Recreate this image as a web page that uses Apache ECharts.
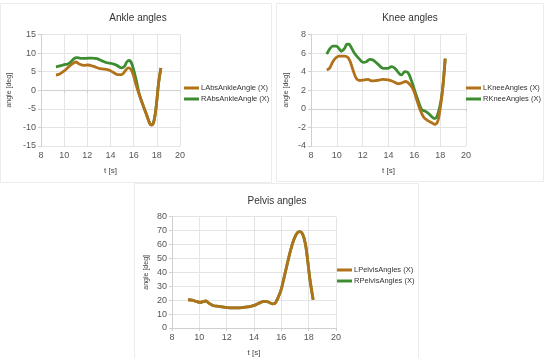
<!DOCTYPE html>
<html>
<head>
<meta charset="utf-8">
<script src="https://cdn.jsdelivr.net/npm/echarts@6/dist/echarts.min.js"></script>
<style>html,body{margin:0;padding:0;background:#fff}#c{width:550px;height:358px}</style>
</head>
<body>
<div id="c"></div>
<script>
// ---- data: [t (s), angle (deg)] ----
var ankleLeft = [[9.29,4.1],[9.57,4.3],[10.0,5.2],[10.43,6.4],[10.8,7.3],[11.0,7.6],[11.28,7.1],[11.7,6.7],[12.05,6.8],[12.56,6.4],[13.1,5.8],[13.8,5.5],[14.2,4.9],[14.6,4.2],[14.97,4.2],[15.26,5.2],[15.54,6.0],[15.74,5.7],[15.97,4.1],[16.25,1.0],[16.68,-3.0],[17.1,-6.5],[17.39,-9.0],[17.53,-9.4],[17.73,-8.6],[17.95,-4.3],[18.15,1.85],[18.35,6.0]];
var ankleRight = [[9.29,6.3],[9.72,6.6],[10.0,6.9],[10.28,7.0],[10.57,7.6],[10.85,8.5],[11.08,8.8],[11.42,8.6],[11.85,8.6],[12.4,8.65],[12.84,8.5],[13.27,7.9],[13.7,7.4],[14.1,7.2],[14.55,6.7],[14.97,6.0],[15.2,6.4],[15.4,7.6],[15.6,8.0],[15.77,7.6],[15.97,5.8],[16.2,3.0],[16.45,-0.6],[16.68,-2.9],[17.1,-6.4],[17.39,-8.9],[17.53,-9.3],[17.73,-8.5],[17.95,-4.2],[18.15,1.9],[18.35,6.0]];
var kneeLeft = [[9.22,4.2],[9.43,4.36],[9.69,5.07],[9.95,5.53],[10.2,5.67],[10.6,5.67],[10.86,5.53],[11.04,5.07],[11.25,4.18],[11.5,3.3],[11.77,3.05],[12.16,3.12],[12.42,3.16],[12.68,3.0],[13.06,3.05],[13.58,3.16],[13.97,3.12],[14.36,2.94],[14.75,2.7],[15.0,2.77],[15.35,2.94],[15.66,2.6],[15.92,2.06],[16.18,1.0],[16.44,-0.07],[16.7,-0.85],[16.96,-1.2],[17.35,-1.5],[17.6,-1.67],[17.8,-1.4],[17.95,-0.43],[18.13,1.35],[18.26,3.1],[18.39,5.4]];
var kneeRight = [[9.22,5.89],[9.48,6.5],[9.69,6.74],[9.95,6.74],[10.16,6.5],[10.34,6.2],[10.6,6.5],[10.78,6.95],[10.94,6.95],[11.12,6.6],[11.38,5.96],[11.77,5.32],[12.03,5.0],[12.29,5.07],[12.55,5.32],[12.8,5.25],[13.2,4.79],[13.58,4.36],[13.97,4.36],[14.23,4.54],[14.49,4.36],[14.88,3.72],[15.0,3.65],[15.27,4.0],[15.45,3.97],[15.71,3.3],[16.05,1.88],[16.31,0.82],[16.57,-0.07],[16.83,-0.25],[17.1,-0.5],[17.35,-0.85],[17.56,-1.06],[17.74,-0.85],[17.95,0.1],[18.13,1.5],[18.26,3.2],[18.39,5.4]];
var pelvisLeft = [[9.17,20.3],[9.46,20.1],[9.83,18.9],[10.07,18.4],[10.32,19.1],[10.49,19.4],[10.69,17.9],[11.05,16.0],[11.42,15.6],[11.91,14.9],[12.4,14.4],[12.77,14.4],[13.26,14.9],[13.75,15.6],[14.12,16.6],[14.49,18.4],[14.73,19.1],[15.05,18.7],[15.34,17.4],[15.54,17.7],[15.71,20.8],[15.96,26.7],[16.2,36.2],[16.45,46.8],[16.69,56.3],[16.94,64.1],[17.18,68.6],[17.35,69.3],[17.55,67.7],[17.75,61.0],[17.92,49.2],[18.09,35.0],[18.33,20.3]];
var pelvisRight = pelvisLeft.map(function(p){return [p[0], p[1]];});
var seriesNames = {
  ankle: ['LAbsAnkleAngle (X)', 'RAbsAnkleAngle (X)'],
  knee: ['LKneeAngles (X)', 'RKneeAngles (X)'],
  pelvis: ['LPelvisAngles (X)', 'RPelvisAngles (X)']
};
var titles = ['Ankle angles', 'Knee angles', 'Pelvis angles'];
var xTicks = {min: 8, max: 20, interval: 2};
var yTicks = [{min: -15, max: 15, interval: 5}, {min: -4, max: 8, interval: 2}, {min: 0, max: 80, interval: 10}];

var FONT = 'Liberation Sans';
var colL = '#b27219', colR = '#3c8c30';
var grids = [
  {left: 41, top: 34.5, width: 139, height: 111.5},
  {left: 311, top: 34.5, width: 155, height: 111.5},
  {left: 172, top: 216.7, width: 164, height: 112.6}
];
var yNameGap = [28, 21, 22];
var titlePos = [[138, 13], [410, 13], [277, 196]];
var legendPos = [[184, 83], [466, 83], [337, 265]];

function xAxis(i) {
  return {gridIndex: i, type: 'value', min: xTicks.min, max: xTicks.max, interval: xTicks.interval,
    name: 't [s]', nameLocation: 'middle', nameGap: 21,
    nameTextStyle: {fontFamily: FONT, fontSize: 8, color: '#444'},
    axisLine: {show: true, lineStyle: {color: '#d0d0d0'}},
    axisTick: {show: true, length: 3, lineStyle: {color: '#d0d0d0'}},
    axisLabel: {fontFamily: FONT, fontSize: 9, color: '#555', margin: 5},
    splitLine: {show: true, lineStyle: {color: '#e4e4e4'}}};
}
function yAxis(i) {
  return {gridIndex: i, type: 'value', min: yTicks[i].min, max: yTicks[i].max, interval: yTicks[i].interval,
    name: 'angle [deg]', nameLocation: 'middle', nameGap: yNameGap[i], nameRotate: 90,
    nameTextStyle: {fontFamily: FONT, fontSize: 7, color: '#444'},
    axisLine: {show: true, lineStyle: {color: '#d0d0d0'}},
    axisTick: {show: true, length: 3, lineStyle: {color: '#d0d0d0'}},
    axisLabel: {fontFamily: FONT, fontSize: 9, color: '#555', margin: 5},
    splitLine: {show: true, lineStyle: {color: '#e4e4e4'}}};
}
function line(name, data, idx, color, z) {
  return {name: name, type: 'line', xAxisIndex: idx, yAxisIndex: idx, data: data,
    smooth: 0.35, showSymbol: false, symbol: 'none', z: z,
    lineStyle: {color: color, width: 2.8}, itemStyle: {color: color}};
}
var keys = ['ankle', 'knee', 'pelvis'];
var dataL = [ankleLeft, kneeLeft, pelvisLeft];
var dataR = [ankleRight, kneeRight, pelvisRight];
var series = [], legends = [], titleArr = [];
keys.forEach(function(k, i) {
  series.push(line(seriesNames[k][1], dataR[i], i, colR, 2));
  series.push(line(seriesNames[k][0], dataL[i], i, colL, 3));
  legends.push({orient: 'vertical', left: legendPos[i][0], top: legendPos[i][1], padding: 0,
    itemWidth: 15, itemHeight: 3, itemGap: 1, icon: 'rect',
    data: [seriesNames[k][0], seriesNames[k][1]],
    textStyle: {fontFamily: FONT, fontSize: 7.5, color: '#333', lineHeight: 10, padding: [0, 0, 0, -3]}});
  titleArr.push({text: titles[i], left: titlePos[i][0], top: titlePos[i][1], textAlign: 'center', padding: 0,
    textStyle: {fontFamily: FONT, fontSize: 10, fontWeight: 'normal', color: '#333'}});
});

var chart = echarts.init(document.getElementById('c'), null, {renderer: 'canvas'});
chart.setOption({
  animation: false,
  backgroundColor: '#fff',
  title: titleArr,
  legend: legends,
  grid: grids,
  xAxis: [0, 1, 2].map(xAxis),
  yAxis: [0, 1, 2].map(yAxis),
  graphic: [
    {type: 'rect', shape: {x: 0.5, y: 3.5, width: 271, height: 179}, style: {fill: 'none', stroke: '#ececec', lineWidth: 1}, silent: true, z: -1},
    {type: 'rect', shape: {x: 276.5, y: 3.5, width: 267, height: 178}, style: {fill: 'none', stroke: '#ececec', lineWidth: 1}, silent: true, z: -1},
    {type: 'rect', shape: {x: 134.5, y: 183.5, width: 284, height: 180}, style: {fill: 'none', stroke: '#ececec', lineWidth: 1}, silent: true, z: -1}
  ],
  series: series
});
</script>
</body>
</html>
